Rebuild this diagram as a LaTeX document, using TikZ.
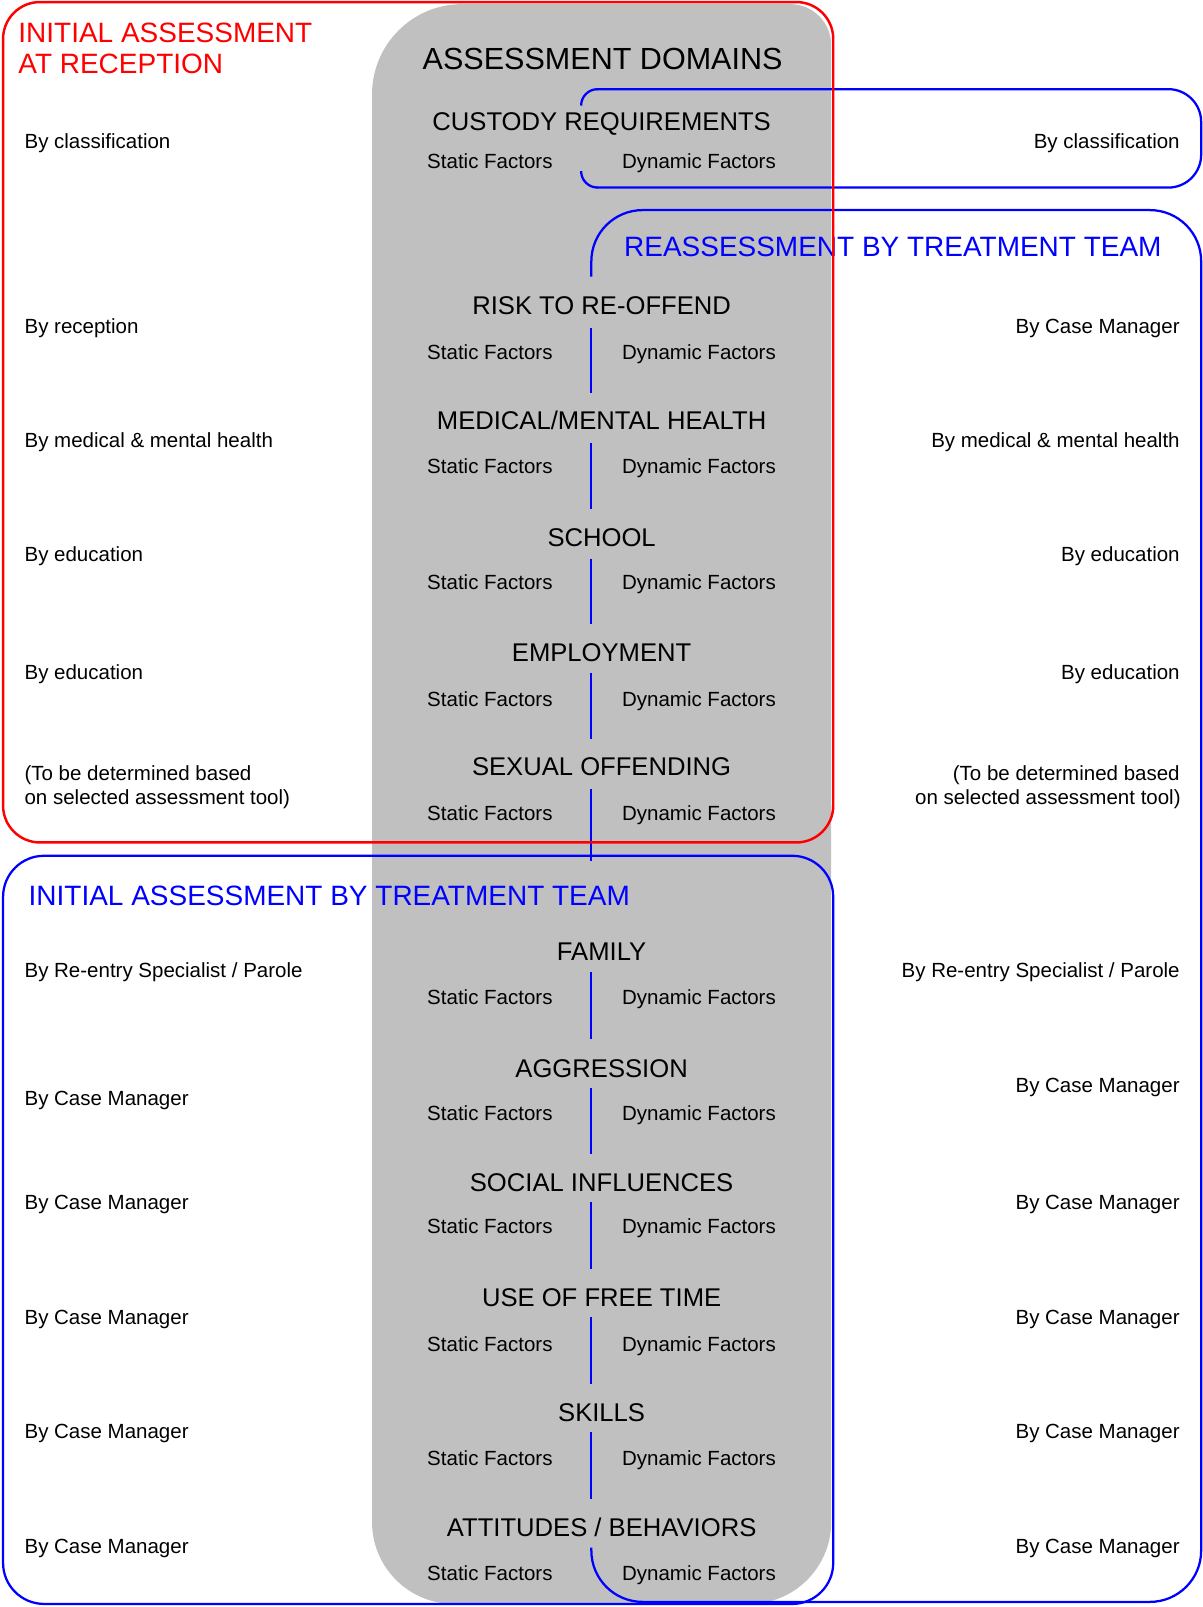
\documentclass[tikz,border=0pt]{standalone}
\usepackage{fontspec}
\setmainfont{Liberation Sans}
\definecolor{boxgray}{HTML}{C0C0C0}
\definecolor{bblue}{HTML}{0000FF}
\definecolor{rred}{HTML}{FF0000}
\begin{document}
\begin{tikzpicture}[x=0.5pt,y=-0.5pt,
  small/.style={font=\fontsize{10}{12}\selectfont, inner sep=0pt, outer sep=0pt},
  dom/.style={font=\fontsize{12.5}{15}\selectfont, inner sep=0pt, outer sep=0pt},
  head/.style={font=\fontsize{13.65}{16}\selectfont, inner sep=0pt, outer sep=0pt},
  ttl/.style={font=\fontsize{14.9}{17}\selectfont, inner sep=0pt, outer sep=0pt},
  bline/.style={draw=bblue, line width=1.1pt},
  rline/.style={draw=rred, line width=1.2pt}]
\useasboundingbox (0,0) rectangle (1173,1568);
% gray column
\fill[boxgray] (363,300) [rounded corners=44] -- (363,4) [rounded corners=20] -- (811,4) [rounded corners=40] -- (811,1565) -- (363,1565) -- cycle;
% title
\node[ttl, anchor=base] (title) at (588,68) {ASSESSMENT DOMAINS};
% headings
\node[head, anchor=base west, text=rred] (ra1) at (18,41) {INITIAL ASSESSMENT};
\node[head, anchor=base west, text=rred] (ra2) at (18,72) {AT RECEPTION};
\node[head, anchor=base west, text=bblue] (reas) at (609,250) {REASSESSMENT BY TREATMENT TEAM};
\node[head, anchor=base west, text=bblue] (itt) at (28,884) {INITIAL ASSESSMENT BY TREATMENT TEAM};
% domains
\foreach \t/\ty/\fy [count=\i] in {
  CUSTODY REQUIREMENTS/118/157,
  RISK TO RE-OFFEND/298/344,
  {MEDICAL/MENTAL HEALTH}/410/455,
  SCHOOL/524/568,
  EMPLOYMENT/636/682,
  SEXUAL OFFENDING/748/794,
  FAMILY/928/973,
  AGGRESSION/1042/1086,
  SOCIAL INFLUENCES/1154/1197,
  USE OF FREE TIME/1266/1312,
  SKILLS/1378/1423,
  {ATTITUDES / BEHAVIORS}/1490/1535}{
  \node[dom, anchor=base] (dom\i) at (587,\ty+9) {\t};
  \node[small, anchor=base] (st\i) at (478,\fy+7) {Static Factors};
  \node[small, anchor=base] (dy\i) at (682,\fy+7) {Dynamic Factors};
}
% left labels
\foreach \y/\t [count=\i] in {
  138/By classification,
  318/By reception,
  430/By medical \& mental health,
  541/By education,
  656/By education,
  755/(To be determined based,
  778/on selected assessment tool),
  947/{By Re-entry Specialist / Parole},
  1072/By Case Manager,
  1173/By Case Manager,
  1285/By Case Manager,
  1397/By Case Manager,
  1509/By Case Manager}{
  \node[small, anchor=base west] (l\i) at (24,\y+7) {\t};
}
% right labels
\foreach \y/\t [count=\i] in {
  138/By classification,
  318/By Case Manager,
  430/By medical \& mental health,
  541/By education,
  656/By education,
  755/(To be determined based,
  947/{By Re-entry Specialist / Parole},
  1059/By Case Manager,
  1173/By Case Manager,
  1285/By Case Manager,
  1397/By Case Manager,
  1509/By Case Manager}{
  \node[small, anchor=base east] (r\i) at (1151,\y+7) {\t};
}
\node[small, anchor=base east] (rtool) at (1152,785) {on selected assessment tool)};
% blue separators
\foreach \a/\b in {320/383, 432/497, 545/609, 657/721, 770/840, 948/1014,
  1062/1126, 1173/1238, 1285/1350, 1397/1463}{
  \draw[bline] (577,\a) -- (577,\b);
}
% custody blue box (left side open)
\draw[bline] (567,103) .. controls (567,94.2) and (574.2,87) .. (583,87);
\draw[bline] (567,167) .. controls (567,175.8) and (574.2,183) .. (583,183);
\draw[bline, rounded corners=16] (582,87) -- (1172,87) -- (1172,183) -- (582,183);
% reassessment box
\draw[bline, rounded corners=25] (577,270) -- (577,205) -- (1172,205) -- (1172,1563) -- (577,1563) -- (577,1510);
% initial assessment by treatment team box
\draw[bline, rounded corners=20] (3,835) rectangle (813,1565);
% red reception box
\draw[rline, rounded corners=18] (3,2) rectangle (813,822);
\end{tikzpicture}
\end{document}
